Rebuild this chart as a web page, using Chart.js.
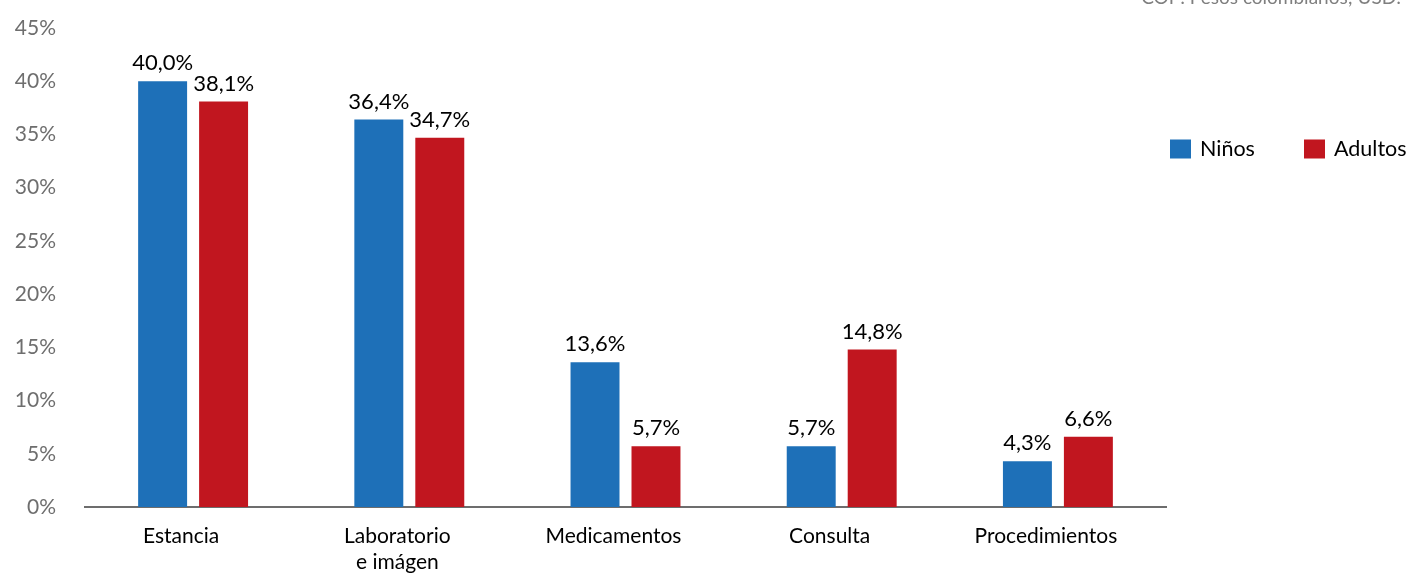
<!DOCTYPE html>
<html>
<head>
<meta charset="utf-8">
<script src="https://cdn.jsdelivr.net/npm/chart.js@4/dist/chart.umd.min.js"></script>
<style>
  html, body { margin: 0; padding: 0; background: #ffffff; }
  #wrap { width: 1411px; height: 575px; position: relative; }
</style>
</head>
<body>
<div id="wrap"><canvas id="chart" width="1411" height="575"></canvas></div>
<script>
// Distribución del gasto por rubro, niños vs. adultos (%)
const categories = ['Estancia', ['Laboratorio', 'e imágen'], 'Medicamentos', 'Consulta', 'Procedimientos'];
const ninos = [40.0, 36.4, 13.6, 5.7, 4.3];
const adultos = [38.1, 34.7, 5.7, 14.8, 6.6];
const seriesNames = ['Niños', 'Adultos'];
const yTicks = [0, 5, 10, 15, 20, 25, 30, 35, 40, 45];
const noteText = 'COP: Pesos colombianos; USD:';

const BLUE = '#1E70B8';
const RED = '#C1161F';
const FONT = 'Lato, "Open Sans", sans-serif';

const fmt = v => v.toFixed(1).replace('.', ',') + '%';

// value labels above every bar
const valueLabels = {
  id: 'valueLabels',
  afterDatasetsDraw(chart) {
    const ctx = chart.ctx;
    ctx.save();
    ctx.font = '22px ' + FONT;
    ctx.fillStyle = '#000000';
    ctx.textAlign = 'center';
    ctx.textBaseline = 'middle';
    chart.data.datasets.forEach((ds, i) => {
      chart.getDatasetMeta(i).data.forEach((bar, j) => {
        ctx.fillText(fmt(ds.data[j]), bar.x, bar.y - 18);
      });
    });
    ctx.restore();
  }
};

// horizontal legend at the right and the source note at the top
const sideLegend = {
  id: 'sideLegend',
  afterDraw(chart) {
    const ctx = chart.ctx;
    const area = chart.chartArea;
    ctx.save();
    ctx.font = '21.5px ' + FONT;
    ctx.textBaseline = 'middle';
    ctx.textAlign = 'left';
    let x = area.right + 4;
    const y = 149;
    chart.data.datasets.forEach((ds) => {
      ctx.fillStyle = ds.backgroundColor;
      ctx.fillRect(x, y - 9.5, 21, 19);
      ctx.fillStyle = '#000000';
      ctx.fillText(ds.label, x + 30, y);
      x += 134;
    });
    ctx.font = '19px ' + FONT;
    ctx.fillStyle = '#7f7f7f';
    ctx.textAlign = 'right';
    ctx.textBaseline = 'alphabetic';
    ctx.fillText(noteText, 1401, 4);
    ctx.restore();
  }
};

new Chart(document.getElementById('chart'), {
  type: 'bar',
  data: {
    labels: categories,
    datasets: [
      { label: seriesNames[0], data: ninos, backgroundColor: BLUE },
      { label: seriesNames[1], data: adultos, backgroundColor: RED }
    ]
  },
  options: {
    responsive: false,
    animation: false,
    devicePixelRatio: 1,
    categoryPercentage: 0.564,
    barPercentage: 0.803,
    layout: { padding: { top: 28, right: 245, bottom: 0, left: 0 } },
    plugins: {
      legend: { display: false },
      tooltip: { enabled: false }
    },
    scales: {
      x: {
        grid: { display: false, drawTicks: false },
        border: { display: true, color: '#6d6d6d', width: 2 },
        ticks: {
          color: '#000000',
          font: { family: FONT, size: 21 },
          padding: 17,
          labelOffset: -12,
          maxRotation: 0,
          autoSkip: false
        },
        afterFit(scale) { scale.height = 68; scale.paddingTop = 0; }
      },
      y: {
        min: 0,
        max: 45,
        afterBuildTicks(scale) { scale.ticks = yTicks.map(v => ({ value: v })); },
        grid: { display: false, drawTicks: false },
        border: { display: false },
        ticks: {
          color: '#6e6e6e',
          font: { family: FONT, size: 21 },
          padding: 29,
          callback: v => v + '%'
        },
        afterFit(scale) { scale.width = 85; scale.paddingTop = 0; }
      }
    }
  },
  plugins: [valueLabels, sideLegend]
});
</script>
</body>
</html>
